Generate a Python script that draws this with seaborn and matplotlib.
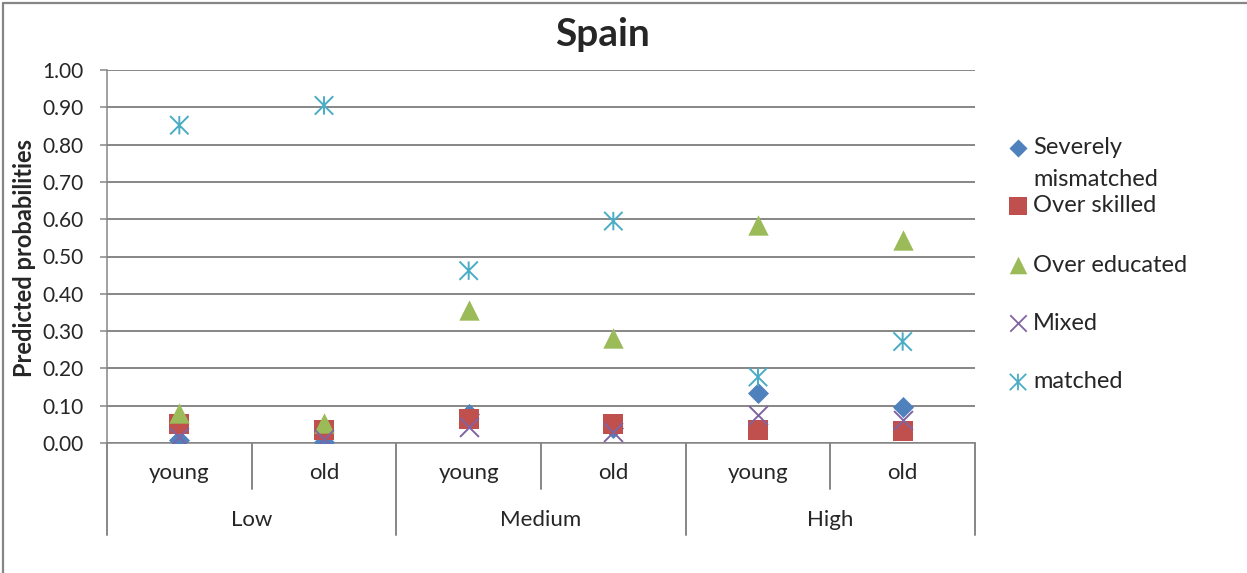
import matplotlib
matplotlib.use("Agg")
import matplotlib.pyplot as plt
from matplotlib.path import Path
from matplotlib.markers import MarkerStyle
import pandas as pd
import seaborn as sns

# Predicted probabilities by skill level and age group
levels = ["Low", "Medium", "High"]
ages = ["young", "old"]
series_names = ["Severely\nmismatched", "Over skilled", "Over educated", "Mixed", "matched"]
severely_mismatched = [0.008, 0.003, 0.078, 0.040, 0.135, 0.097]
over_skilled = [0.052, 0.034, 0.064, 0.051, 0.035, 0.033]
over_educated = [0.080, 0.054, 0.356, 0.282, 0.585, 0.545]
mixed = [0.015, 0.010, 0.044, 0.030, 0.075, 0.062]
matched = [0.852, 0.905, 0.462, 0.595, 0.177, 0.272]
y_ticks = [0.0, 0.1, 0.2, 0.3, 0.4, 0.5, 0.6, 0.7, 0.8, 0.9, 1.0]

values = [severely_mismatched, over_skilled, over_educated, mixed, matched]
rows = []
for name, vals in zip(series_names, values):
    for i, v in enumerate(vals):
        rows.append({"pos": i, "level": levels[i // 2], "age": ages[i % 2],
                     "series": name, "value": v})
df = pd.DataFrame(rows)

sns.set_theme(style="white")
plt.rcParams["font.family"] = ["Lato", "DejaVu Sans"]

GRID = "#868686"
W, H = 1247, 573
fig = plt.figure(figsize=(W / 100, H / 100), dpi=100)
ax_l, ax_r, ax_t, ax_b = 107, 975, 70, 443
ax = fig.add_axes([ax_l / W, 1 - ax_b / H, (ax_r - ax_l) / W, (ax_b - ax_t) / H])

# asterisk-style marker: two diagonals plus a vertical stroke
star_path = Path([(-1, -1), (1, 1), (-1, 1), (1, -1), (0, -1), (0, 1)],
                 [Path.MOVETO, Path.LINETO, Path.MOVETO, Path.LINETO,
                  Path.MOVETO, Path.LINETO])
star = MarkerStyle(star_path, fillstyle="none")

styles = [
    ("D", "#4F81BD", 115, True),
    ("s", "#C0504D", 200, True),
    ("^", "#9BBB59", 215, True),
    ("x", "#8064A2", 185, False),
    (star, "#4BACC6", 175, False),
]

for z, (name, (marker, color, size, filled)) in enumerate(zip(series_names, styles)):
    sub = df[df["series"] == name]
    if filled:
        sns.scatterplot(data=sub, x="pos", y="value", marker=marker, color=color,
                        s=size, linewidth=0, ax=ax, legend=False, zorder=3 + z)
    else:
        sns.scatterplot(data=sub, x="pos", y="value", marker=marker, color=color,
                        edgecolor=color, s=size, linewidth=1.4, ax=ax,
                        legend=False, zorder=3 + z)

ax.set_xlim(-0.5, len(levels) * len(ages) - 0.5)
ax.set_ylim(0, 1.0)
ax.set_yticks(y_ticks)
ax.set_yticklabels([f"{t:.2f}" for t in y_ticks], fontsize=15)
ax.set_xticks([])
ax.set_xlabel("")
ax.set_ylabel("")
ax.yaxis.grid(True, color=GRID, linewidth=1.4)
ax.set_axisbelow(True)
ax.tick_params(axis="y", which="major", length=5, width=1.1, color=GRID,
               pad=12, left=True)
for side in ["top", "right"]:
    ax.spines[side].set_visible(False)
for side in ["left", "bottom"]:
    ax.spines[side].set_color(GRID)
    ax.spines[side].set_linewidth(1.1)

# two-level category axis: age labels above level labels, with separators
xt = ax.get_xaxis_transform()
px = 1.0 / (ax_b - ax_t)
n = len(levels) * len(ages)
for i in range(n + 1):
    depth = 92 if i % 2 == 0 else 46
    ax.plot([i - 0.5, i - 0.5], [0, -depth * px], transform=xt, color=GRID,
            linewidth=1.4, clip_on=False)
for i in range(n):
    ax.text(i, -30 * px, ages[i % 2], transform=xt, ha="center", va="center",
            fontsize=16)
for j, lv in enumerate(levels):
    ax.text(2 * j + 0.5, -77 * px, lv, transform=xt, ha="center", va="center",
            fontsize=16)

fig.text(25 / W, 1 - 258 / H, "Predicted probabilities", rotation=90,
         ha="center", va="center", fontsize=17, fontweight="bold")
fig.text(603 / W, 1 - 35 / H, "Spain", ha="center", va="center", fontsize=28,
         fontweight="bold")

# legend drawn in pixel coordinates on an overlay
ov = fig.add_axes([0, 0, 1, 1], facecolor="none")
ov.set_xlim(0, W)
ov.set_ylim(H, 0)
ov.axis("off")
leg_rows = [148, 206, 265, 323, 382]
leg_sizes = [85, 150, 160, 140, 140]
for (name, (marker, color, size, filled)), ly, ls in zip(zip(series_names, styles), leg_rows, leg_sizes):
    if filled:
        ov.scatter([1018], [ly], marker=marker, color=color, s=ls, linewidth=0)
    else:
        ov.scatter([1018], [ly], marker=marker, color=color, s=ls, linewidth=1.3)
    for k, line in enumerate(name.split("\n")):
        ov.text(1033, ly + 32 * k, line, ha="left", va="center", fontsize=17)

# outer chart frame (left and top edges)
ov.plot([2.5, 2.5], [H, 2.5], color=GRID, linewidth=1.6, clip_on=False)
ov.plot([2.5, W], [2.5, 2.5], color=GRID, linewidth=1.6, clip_on=False)

fig.savefig("out.png", dpi=100)
